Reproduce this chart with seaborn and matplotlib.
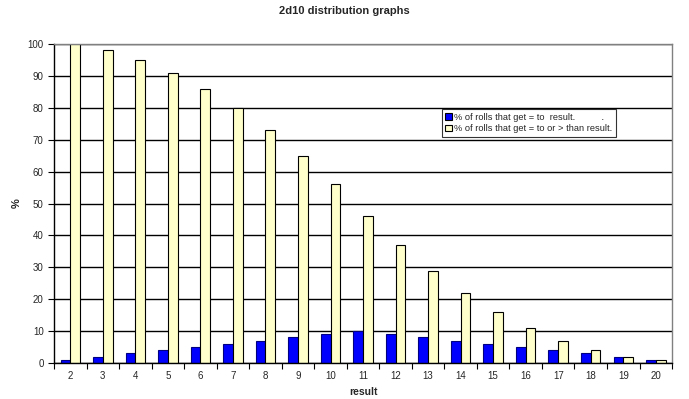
import numpy as np
import pandas as pd
import matplotlib
matplotlib.use("Agg")
import matplotlib.pyplot as plt
import seaborn as sns

# values
results = [2, 3, 4, 5, 6, 7, 8, 9, 10, 11, 12, 13, 14, 15, 16, 17, 18, 19, 20]
pct_equal = [1, 2, 3, 4, 5, 6, 7, 8, 9, 10, 9, 8, 7, 6, 5, 4, 3, 2, 1]
pct_at_least = [100, 98, 95, 91, 86, 80, 73, 65, 56, 46, 37, 29, 22, 16, 11, 7, 4, 2, 1]

lab_eq = "% of rolls that get = to  result.          ."
lab_ge = "% of rolls that get = to or > than result."

df = pd.DataFrame({"result": results, lab_eq: pct_equal, lab_ge: pct_at_least})
long = df.melt(id_vars="result", var_name="series", value_name="pct")

sns.set_style("white")
plt.rcParams["font.family"] = ["Liberation Sans", "DejaVu Sans"]

fig = plt.figure(figsize=(6.89, 3.99), dpi=100)
ax = fig.add_axes([0.0784, 0.0902, 0.8970, 0.7995])

sns.barplot(data=long, x="result", y="pct", hue="series",
            palette=["#0000FF", "#FFFFCC"], width=0.6, saturation=1,
            edgecolor="black", linewidth=0.8, ax=ax)

# dark navy outline on the blue bars
for p in ax.containers[0]:
    p.set_edgecolor("#000080")

ax.set_ylim(0, 100)
ax.set_yticks(range(0, 101, 10))
ax.yaxis.grid(True, color="black", linewidth=1)
ax.set_axisbelow(True)

# category ticks between groups, like Excel
n = len(results)
ax.set_xlim(-0.5, n - 0.5)
ax.set_xticks(np.arange(-0.5, n, 1.0), minor=True)
ax.tick_params(axis="x", which="major", length=0, labelsize=7, pad=6)
ax.tick_params(axis="x", which="minor", length=4, width=0.8, color="black", direction="out")
ax.tick_params(axis="y", length=4, width=0.8, color="black", direction="out", labelsize=7)
ax.xaxis.set_tick_params(bottom=True, which="both")
ax.yaxis.set_tick_params(left=True)

for side in ["left", "bottom"]:
    ax.spines[side].set_color("black")
    ax.spines[side].set_linewidth(1)
for side in ["top", "right"]:
    ax.spines[side].set_visible(True)
    ax.spines[side].set_color("#808080")
    ax.spines[side].set_linewidth(1)

ax.set_xlabel("result", fontsize=7.5, fontweight="bold", labelpad=4)
ax.set_ylabel("%", fontsize=8, fontweight="bold")
ax.yaxis.set_label_coords(-0.052, 0.5)
fig.suptitle("2d10 distribution graphs", fontsize=8, fontweight="bold", y=0.985)

leg = ax.legend(loc="upper left", bbox_to_anchor=(0.62, 0.81), fontsize=6.7,
                frameon=True, fancybox=False, edgecolor="black",
                handlelength=0.7, handleheight=0.7, handletextpad=0.3,
                borderpad=0.35, labelspacing=0.3, title=None)
leg.get_frame().set_linewidth(0.8)

plt.savefig("out.png", dpi=100)
